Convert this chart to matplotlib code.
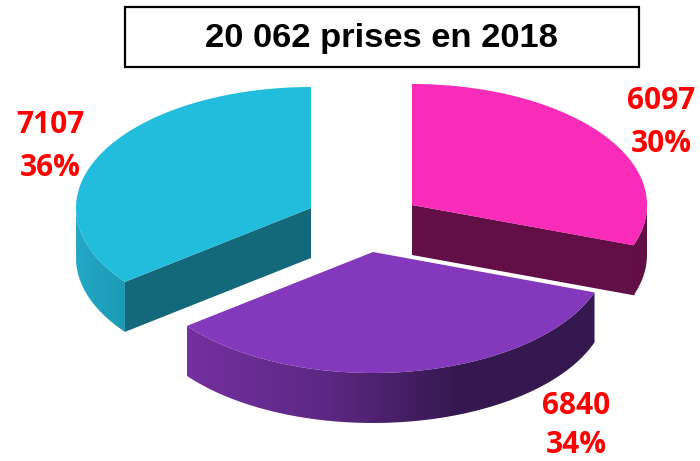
#!/usr/bin/env python3

import numpy as np
import matplotlib
matplotlib.use('Agg')
import matplotlib.pyplot as plt
from matplotlib.colors import LinearSegmentedColormap
from matplotlib.patches import PathPatch, Polygon, Rectangle
from matplotlib.path import Path

title = '20 062 prises en 2018'
values = [6097, 6840, 7107]
percents = ['30%', '34%', '36%']

top_colors = ['#f82cb9', '#8438bb', '#22bddd']
cut_colors = ['#610f46', '#34184f', '#13687a']
side_colors = [
    ['#610f46', '#610f46'],
    ['#7430a0', '#5d2884', '#34184f', '#34184f'],
    ['#23a8c6', '#1c9ab5'],
]

# slice apex on the page, in pixels (exploded pie)
centers = [(412, 205), (373, 252), (311, 208)]
label_pos = [(661, 101, 144), (576, 406, 445), (50, 125, 168)]

rx = 235
ry = 121
depth = 50


def rim(a0, a1, n=200):
    # angles run clockwise from the top of the pie
    a = np.linspace(a0, a1, n)
    return rx * np.sin(a), -ry * np.cos(a)


fig = plt.figure(figsize=(7, 4.61), dpi=100)
ax = fig.add_axes([0, 0, 1, 1])
ax.set_xlim(0, 700)
ax.set_ylim(461, 0)
ax.axis('off')

ax.add_patch(Rectangle((125, 7), 514, 60, fc='white', ec='black', lw=1.6))
ax.text(381.5, 39, title, ha='center', va='center', fontsize=24.8,
        fontweight='bold', family='Liberation Sans', color='black')

angles = np.cumsum([0] + values) / sum(values) * 2 * np.pi

for i in range(len(values)):
    a0, a1 = angles[i], angles[i + 1]
    cx, cy = centers[i]
    dx, dy = rim(a0, a1)
    x = cx + dx
    y = cy + dy

    # visible part of the outer wall: where the rim faces the viewer
    lo = max(a0, np.pi / 2)
    hi = min(a1, 3 * np.pi / 2)
    wx, wy = rim(lo, hi)
    wx = cx + wx
    wy = cy + wy
    wall = np.vstack([np.column_stack([wx, wy]),
                      np.column_stack([wx[::-1], wy[::-1] + depth])])
    patch = PathPatch(Path(wall, closed=False), fc='none', ec='none')
    ax.add_patch(patch)
    cmap = LinearSegmentedColormap.from_list('side%d' % i, side_colors[i])
    im = ax.imshow(np.linspace(0, 1, 256).reshape(1, -1), cmap=cmap, aspect='auto',
                   extent=[wx.min(), wx.max(), wy.max() + depth, wy.min()],
                   zorder=1 + i * 0.1, interpolation='bilinear')
    im.set_clip_path(patch)

    # cut faces that look towards the viewer
    if i == 0:
        cut = [(cx, cy), (x[-1] + 1, y[-1]), (x[-1] + 1, y[-1] + depth), (cx, cy + depth)]
        ax.add_patch(Polygon(cut, fc=cut_colors[i], ec='none', zorder=1.2))
    if i == 2:
        cut = [(cx, cy), (x[0], y[0]), (x[0], y[0] + depth), (cx, cy + depth)]
        ax.add_patch(Polygon(cut, fc=cut_colors[i], ec='none', zorder=1.2))

    top = np.vstack([[(cx, cy)], np.column_stack([x, y])])
    ax.add_patch(Polygon(top, closed=True, fc=top_colors[i], ec='none', zorder=1.5 + i * 0.1))

    lx, ly1, ly2 = label_pos[i]
    ax.text(lx, ly1, str(values[i]), ha='center', va='center', fontsize=21.5,
            fontweight='bold', family='Open Sans', color='#ff0000', zorder=5)
    ax.text(lx, ly2, percents[i], ha='center', va='center', fontsize=21.5,
            fontweight='bold', family='Open Sans', color='#ff0000', zorder=5)

ax.set_xlim(0, 700)
ax.set_ylim(461, 0)

fig.savefig('out.png', dpi=100)
